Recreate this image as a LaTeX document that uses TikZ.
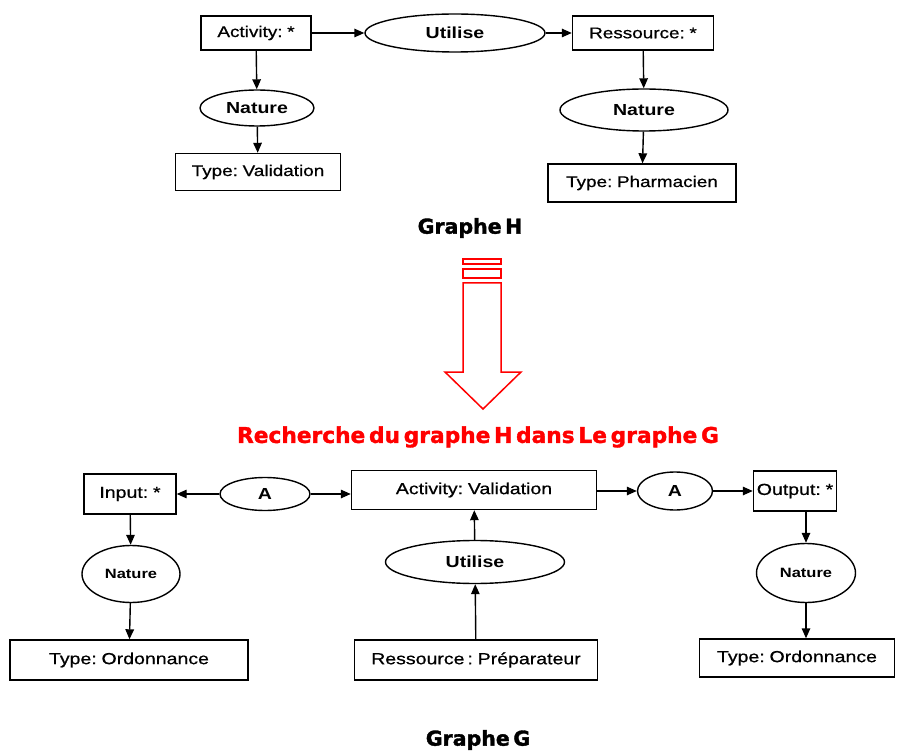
\documentclass[tikz,border=0pt]{standalone}
\usepackage{fontspec}
\setmainfont{Liberation Sans}
\newfontfamily\lab[FakeStretch=1.22,WordSpace=0.55,FakeBold=0.7]{Liberation Sans}
\newfontfamily\elab[FakeStretch=1.22,WordSpace=0.6]{Liberation Sans Bold}
\newfontfamily\ttl[FakeBold=1.6,WordSpace=0.5]{DejaVu Sans Bold}
\usetikzlibrary{arrows.meta,shapes.geometric}
\begin{document}
\begin{tikzpicture}[x=1pt,y=-1pt,
 box/.style={draw,line width=1.4pt,rectangle,inner sep=0pt,font=\lab\fontsize{15.5}{18}\selectfont},
 bbox/.style={box,font=\lab\fontsize{16}{18}\selectfont},
 ell/.style={draw,line width=1.4pt,ellipse,inner sep=0pt,font=\elab\fontsize{16}{18}\selectfont},
 sell/.style={ell,font=\elab\fontsize{13.5}{16}\selectfont},
 arr/.style={line width=1.4pt,-{Triangle[length=10pt,width=8.5pt]}},
 title/.style={font=\ttl\fontsize{20.5}{22}\selectfont},
 redline/.style={draw=red,line width=1.5pt},
]
\useasboundingbox (0,0) rectangle (897,751);
% Graphe H
\node[box,minimum width=110pt,minimum height=34pt] (act) at (256,33) {Activity: *};
\node[ell,minimum width=180pt,minimum height=38pt] (utl) at (455,33) {Utilise};
\node[box,minimum width=141pt,minimum height=34pt] (res) at (643,33) {Ressource: *};
\node[ell,minimum width=114pt,minimum height=36pt] (nat1) at (257,108) {Nature};
\node[box,minimum width=165pt,minimum height=37pt] (tval) at (258,172) {Type: Validation};
\node[ell,minimum width=168pt,minimum height=42pt] (nat2) at (644,110) {Nature};
\node[box,minimum width=188pt,minimum height=38pt] (tph) at (642,183) {Type: Pharmacien};
\node[title] (gh) at (470,228) {Graphe H};
\draw[arr] (act) -- (utl);
\draw[arr] (utl) -- (res);
\draw[arr] (act) -- (nat1);
\draw[arr] (nat1) -- (tval);
\draw[arr] (res) -- (nat2);
\draw[arr] (nat2) -- (tph);
% red arrow
\draw[redline] (463,259) rectangle (501,264);
\draw[redline] (463,269) rectangle (501,278);
\draw[redline,line join=miter] (463,283) -- (501,283) -- (501,372) -- (521,372) -- (483,409) -- (445,372) -- (463,372) -- cycle;
\node[title,text=red,font=\ttl\fontsize{21.7}{24}\selectfont] (rech) at (478,437) {Recherche du graphe H dans Le graphe G};
% Graphe G
\node[bbox,minimum width=92pt,minimum height=40pt] (inp) at (130,494) {Input: *};
\node[ell,minimum width=90pt,minimum height=33pt] (a1) at (265,494) {A};
\node[bbox,minimum width=245pt,minimum height=39pt] (actv) at (474,490) {Activity: Validation};
\node[ell,minimum width=75pt,minimum height=38pt] (a2) at (675,491) {A};
\node[bbox,minimum width=83pt,minimum height=40pt] (out) at (795,491) {Output: *};
\node[sell,minimum width=98pt,minimum height=57pt] (nat3) at (131,574) {Nature};
\node[bbox,minimum width=238pt,minimum height=40pt] (tord1) at (129,660) {Type: Ordonnance};
\node[ell,minimum width=179pt,minimum height=43pt] (utl2) at (475,562) {Utilise};
\node[bbox,minimum width=243pt,minimum height=40pt] (resp) at (476,660) {Ressource : Préparateur};
\node[sell,minimum width=99pt,minimum height=59pt] (nat4) at (806,573) {Nature};
\node[bbox,minimum width=195pt,minimum height=38pt] (tord2) at (797,658) {Type: Ordonnance};
\node[title] (gg) at (478,740) {Graphe G};
\draw[arr] (a1) -- (inp);
\draw[arr] (a1) -- (actv.west |- a1);
\draw[arr] (actv.east |- a2) -- (a2);
\draw[arr] (a2) -- (out);
\draw[arr] (inp) -- (nat3);
\draw[arr] (nat3) -- (tord1);
\draw[arr] (utl2) -- (actv);
\draw[arr] (resp) -- (utl2);
\draw[arr] (nat4.north |- out.south) -- (nat4.north);
\draw[arr] (nat4.south) -- (nat4.south |- tord2.north);
\end{tikzpicture}
\end{document}
